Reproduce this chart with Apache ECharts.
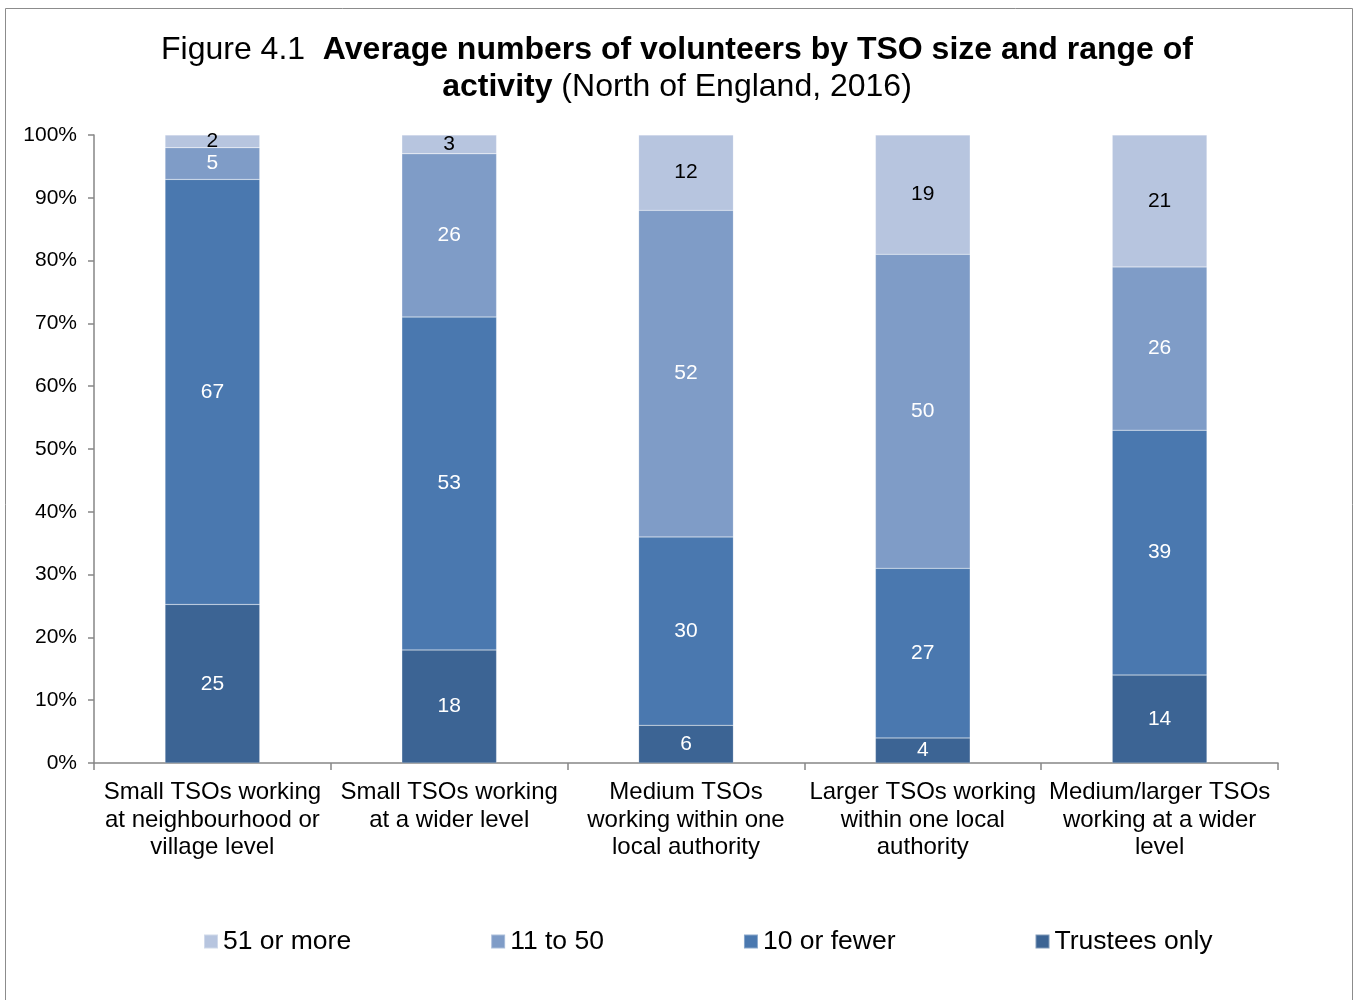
<!DOCTYPE html>
<html lang="en">
<head>
    <meta charset="UTF-8">
    <title>Figure 4.1</title>
    <script src="https://cdn.jsdelivr.net/npm/echarts@6/dist/echarts.min.js"></script>
    <style>
        html, body { margin: 0; padding: 0; background: #fff; }
    </style>
</head>
<body>
    <div id="main" style="width:1354px;height:1000px;"></div>
    <script>
        var myChart = echarts.init(document.getElementById('main'));

        // categories (x axis)
        var categories = [
            'Small TSOs working\nat neighbourhood or\nvillage level',
            'Small TSOs working\nat a wider level',
            'Medium TSOs\nworking within one\nlocal authority',
            'Larger TSOs working\nwithin one local\nauthority',
            'Medium/larger TSOs\nworking at a wider\nlevel'
        ];
        // series values (as labelled)
        var trustees = [25, 18, 6, 4, 14];
        var tenOrFewer = [67, 53, 30, 27, 39];
        var elevenTo50 = [5, 26, 52, 50, 26];
        var fiftyOneMore = [2, 3, 12, 19, 21];
        var yTicks = [0, 10, 20, 30, 40, 50, 60, 70, 80, 90, 100];

        var font = 'Liberation Sans, Arial, sans-serif';
        var totals = categories.map(function (c, i) {
            return trustees[i] + tenOrFewer[i] + elevenTo50[i] + fiftyOneMore[i];
        });
        // 100% stacked: share of each column, label keeps the raw number
        function pct(arr) {
            return arr.map(function (v, i) {
                return { value: v / totals[i] * 100, raw: v };
            });
        }

        function makeSeries(name, arr, color, labelColor) {
            return {
                name: name,
                type: 'bar',
                stack: 'all',
                barWidth: '40%',
                data: pct(arr),
                itemStyle: { color: color, borderColor: 'rgba(255,255,255,0.35)', borderWidth: 0.5 },
                label: {
                    show: true,
                    position: 'inside',
                    color: labelColor,
                    fontFamily: font,
                    fontSize: 21,
                    formatter: function (p) { return p.data.raw; }
                },
                emphasis: { disabled: true }
            };
        }

        var titleRich = {
            n: { fontFamily: font, fontSize: 32, fontWeight: 'normal', color: '#000' },
            b: { fontFamily: font, fontSize: 32, fontWeight: 'bold', color: '#000' }
        };

        var option = {
            backgroundColor: '#ffffff',
            animation: false,
            title: [{
                left: 'center',
                top: 29,
                textStyle: { rich: titleRich },
                text: '{n|Figure 4.1  }{b|Average numbers of volunteers by TSO size and range of}'
            }, {
                left: 'center',
                top: 66,
                textStyle: { rich: titleRich },
                text: '{b|activity}{n| (North of England, 2016)}'
            }],
            graphic: [{
                type: 'rect',
                shape: { x: 5.5, y: 8.5, width: 1347, height: 1000 },
                style: { fill: 'none', stroke: '#8c8c8c', lineWidth: 1 },
                silent: true
            }],
            legend: {
                data: ['51 or more', '11 to 50', '10 or fewer', 'Trustees only'],
                left: 203,
                top: 928,
                padding: 0,
                icon: 'rect',
                itemWidth: 14,
                itemHeight: 14,
                itemGap: 139,
                textStyle: { fontFamily: font, fontSize: 26.5, color: '#000' }
            },
            grid: {
                left: 94,
                right: 76,
                top: 135,
                bottom: 237
            },
            xAxis: {
                type: 'category',
                data: categories,
                axisLine: { lineStyle: { color: '#868686', width: 1.5 } },
                axisTick: { show: true, length: 7, lineStyle: { color: '#868686', width: 1.5 } },
                axisLabel: {
                    color: '#000',
                    fontFamily: font,
                    fontSize: 24,
                    lineHeight: 27.5,
                    margin: 16,
                    interval: 0
                }
            },
            yAxis: {
                type: 'value',
                min: yTicks[0],
                max: yTicks[yTicks.length - 1],
                interval: 10,
                axisLine: { show: true, lineStyle: { color: '#868686', width: 1.5 } },
                axisTick: { show: true, length: 6, lineStyle: { color: '#868686', width: 1.5 } },
                splitLine: { show: false },
                axisLabel: {
                    color: '#000',
                    fontFamily: font,
                    fontSize: 21,
                    margin: 17,
                    formatter: '{value}%'
                }
            },
            series: [
                makeSeries('Trustees only', trustees, '#3C6494', '#fff'),
                makeSeries('10 or fewer', tenOrFewer, '#4A78AF', '#fff'),
                makeSeries('11 to 50', elevenTo50, '#7F9CC7', '#fff'),
                makeSeries('51 or more', fiftyOneMore, '#B7C5DF', '#000')
            ]
        };
        myChart.setOption(option);
    </script>
</body>
</html>
